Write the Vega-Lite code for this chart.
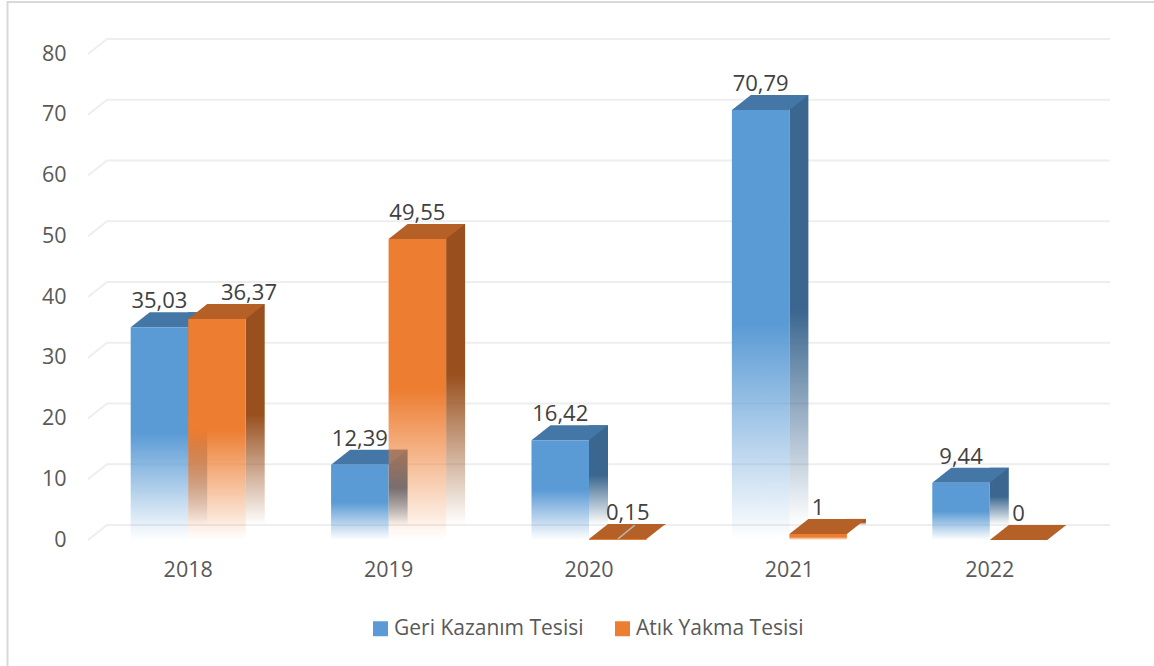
{
"$schema":"https://vega.github.io/schema/vega-lite/v6.json",
"width":1002,"height":486,
"autosize":{"type":"none"},
"padding":{"left":88,"top":54,"right":64,"bottom":126},
"background":"white",
"config":{"view":{"stroke":null},"font":"Open Sans","axis":{"labelFont":"Open Sans","labelFontSize":21.5,"labelColor":"#595959","domain":false,"ticks":false,"grid":false,"title":null},"legend":{"labelFont":"Open Sans","labelFontSize":21,"labelColor":"#595959","labelLimit":400}},
"datasets":{"bars":[
{"year":"2018","series":"Geri Kazanım Tesisi","value":35.03,"label":"35,03"},
{"year":"2018","series":"Atık Yakma Tesisi","value":36.37,"label":"36,37"},
{"year":"2019","series":"Geri Kazanım Tesisi","value":12.39,"label":"12,39"},
{"year":"2019","series":"Atık Yakma Tesisi","value":49.55,"label":"49,55"},
{"year":"2020","series":"Geri Kazanım Tesisi","value":16.42,"label":"16,42"},
{"year":"2020","series":"Atık Yakma Tesisi","value":0.15,"label":"0,15"},
{"year":"2021","series":"Geri Kazanım Tesisi","value":70.79,"label":"70,79"},
{"year":"2021","series":"Atık Yakma Tesisi","value":1,"label":"1"},
{"year":"2022","series":"Geri Kazanım Tesisi","value":9.44,"label":"9,44"},
{"year":"2022","series":"Atık Yakma Tesisi","value":0,"label":"0"}
],
"ticks":[{"t":0},{"t":10},{"t":20},{"t":30},{"t":40},{"t":50},{"t":60},{"t":70},{"t":80}],
"frame":[{"f":1}]},
"data":{"name":"bars"},
"layer":[
{"data":{"name":"frame"},
 "mark":{"type":"point","filled":false,"opacity":1,"size":4,"strokeWidth":2,"shape":"M-581.5 369 L-581.5 -295 L566 -295","stroke":"#d9d9d9"},
 "encoding":{}},
{"data":{"name":"ticks"},
 "mark":{"type":"point","filled":false,"opacity":1,"size":4,"strokeWidth":2,"shape":"M-501 0 L-482 -15 L521 -15","stroke":"#eeeeee"},
 "encoding":{"y":{"field":"t","type":"quantitative","scale":{"domain":[0,80],"nice":false},
   "axis":{"values":[0,10,20,30,40,50,60,70,80],"labelPadding":22,"labelOffset":0}}}},
{"mark":{"type":"bar","width":19,"yOffset":-15,"y2Offset":-15,"xOffset":{"expr":"datum.series==='Atık Yakma Tesisi'?67:9.5"}},
 "encoding":{
  "x":{"field":"year","type":"ordinal","scale":{"paddingInner":0.426,"paddingOuter":0.213},"axis":{"labelAngle":0,"labelPadding":19}},
  "y":{"field":"value","type":"quantitative"},
  "y2":{"datum":0},
  "color":{"condition":{"test":"datum.series==='Atık Yakma Tesisi'","value":{"x1":0,"y1":0,"x2":0,"y2":1,"gradient":"linear","stops":[{"offset":0,"color":"#99501E"},{"offset":0.5,"color":"#99501E"},{"offset":1,"color":"rgba(153,80,30,0)"}]}},
   "value":{"x1":0,"y1":0,"x2":0,"y2":1,"gradient":"linear","stops":[{"offset":0,"color":"#3B668F"},{"offset":0.5,"color":"#3B668F"},{"offset":1,"color":"rgba(59,102,143,0)"}]}}
 }},
{"mark":{"type":"point","filled":true,"opacity":1,"size":4,"shape":"M-28.75 0 L28.75 0 L47.75 -15 L-9.75 -15 Z"},
 "encoding":{
  "x":{"field":"year","type":"ordinal"},
  "xOffset":{"field":"series","type":"nominal","sort":["Geri Kazanım Tesisi","Atık Yakma Tesisi"]},
  "y":{"field":"value","type":"quantitative"},
  "color":{"condition":{"test":"datum.series==='Atık Yakma Tesisi'","value":"#B46026"},"value":"#4477A5"}
 }},
{"transform":[{"filter":"datum.label==='0,15'"}],
 "mark":{"type":"point","filled":false,"opacity":1,"size":4,"strokeWidth":1.5,"stroke":"#b5b5b5","shape":"M0 0 L17 -14"},
 "encoding":{
  "x":{"field":"year","type":"ordinal"},
  "xOffset":{"field":"series","type":"nominal","sort":["Geri Kazanım Tesisi","Atık Yakma Tesisi"]},
  "y":{"field":"value","type":"quantitative"}
 }},
{"mark":{"type":"bar"},
 "encoding":{
  "x":{"field":"year","type":"ordinal"},
  "xOffset":{"field":"series","type":"nominal","sort":["Geri Kazanım Tesisi","Atık Yakma Tesisi"]},
  "y":{"field":"value","type":"quantitative"},
  "y2":{"datum":0},
  "color":{"condition":{"test":"datum.series==='Atık Yakma Tesisi'","value":{"x1":0,"y1":0,"x2":0,"y2":1,"gradient":"linear","stops":[{"offset":0,"color":"#ED7D31"},{"offset":0.5,"color":"#ED7D31"},{"offset":1,"color":"rgba(237,125,49,0)"}]}},
   "value":{"x1":0,"y1":0,"x2":0,"y2":1,"gradient":"linear","stops":[{"offset":0,"color":"#5B9BD5"},{"offset":0.5,"color":"#5B9BD5"},{"offset":1,"color":"rgba(91,155,213,0)"}]}}
 }},
{"mark":{"type":"point","filled":true,"opacity":1,"size":0},
 "encoding":{
  "x":{"field":"year","type":"ordinal"},
  "y":{"field":"value","type":"quantitative"},
  "color":{"field":"series","type":"nominal",
   "scale":{"domain":["Geri Kazanım Tesisi","Atık Yakma Tesisi"],"range":["#5B9BD5","#ED7D31"]},
   "legend":{"title":null,"orient":"none","legendX":282,"legendY":564,"direction":"horizontal","columns":2,"columnPadding":28,"symbolType":"square","symbolSize":225,"symbolStrokeWidth":0,"labelOffset":3}}
 }},
{"mark":{"type":"text","font":"Open Sans","fontSize":22,"color":"#404040","baseline":"middle","yOffset":-26,"dx":{"expr":"datum.label==='36,37'?32:datum.label==='0,15'?10:0"}},
 "encoding":{
  "x":{"field":"year","type":"ordinal"},
  "xOffset":{"field":"series","type":"nominal","sort":["Geri Kazanım Tesisi","Atık Yakma Tesisi"]},
  "y":{"field":"value","type":"quantitative"},
  "text":{"field":"label","type":"nominal"}
 }}
]
}
